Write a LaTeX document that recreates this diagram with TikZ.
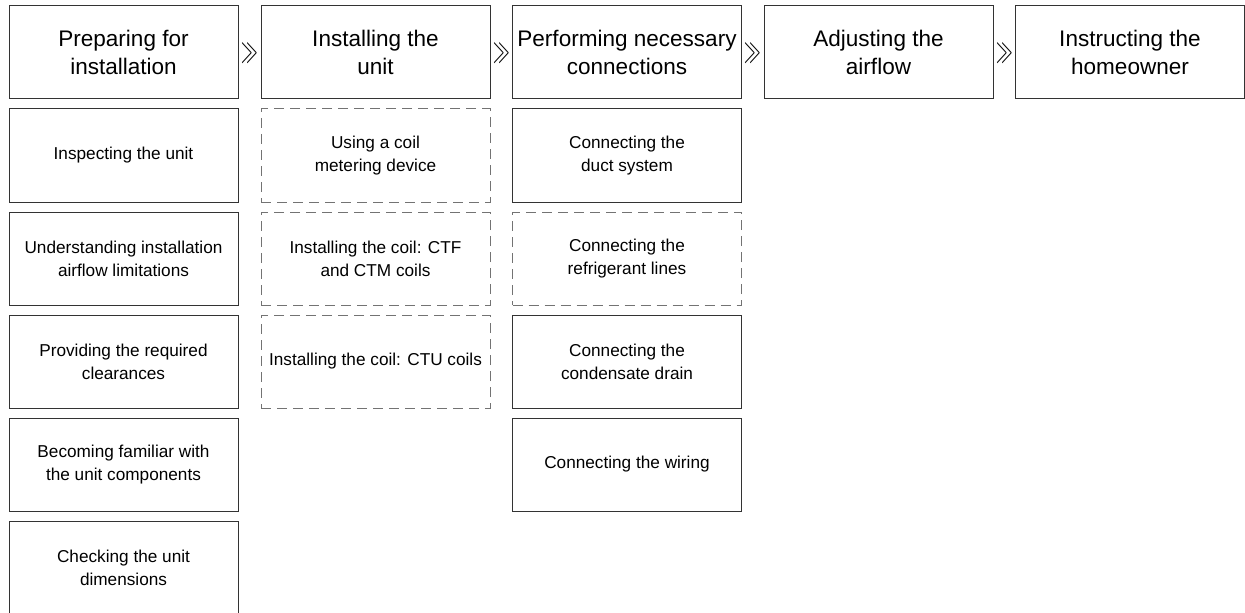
\documentclass[tikz,border=0pt]{standalone}
\usepackage{fontspec}
\setmainfont{Liberation Sans}
\begin{document}
\begin{tikzpicture}[x=0.75pt,y=-0.75pt,every node/.style={draw=black!80,line width=0.75pt,minimum width=171.75pt,minimum height=69.75pt,align=center,inner sep=0pt}]
        \tikzset{head/.style = {font=\fontsize{16.9}{20.5}\selectfont},
                 task/.style = {font=\fontsize{12.9}{17.3}\selectfont},
                 optional/.style = {task,draw=black!55,dash pattern=on 7.5pt off 4.5pt},
                 chev/.style = {draw=none,minimum width=0pt,minimum height=0pt,font=\fontsize{25}{25}\selectfont}}
        \clip (0,0) rectangle (1245,613);
        \node[head] (H1) at (123.5,52.5) {Preparing for\\installation};
        \node[head] (H2) at (375.5,52.5) {Installing the\\unit};
        \node[head] (H3) at (627,52.5) {Performing necessary\\connections};
        \node[head] (H4) at (878.5,52.5) {Adjusting the\\airflow};
        \node[head] (H5) at (1130,52.5) {Instructing the\\homeowner};

        \node[chev] (C1) at (250,53) {\scalebox{0.5}[1]{$\gg$}};
        \node[chev] (C2) at (501.5,53) {\scalebox{0.5}[1]{$\gg$}};
        \node[chev] (C3) at (753,53) {\scalebox{0.5}[1]{$\gg$}};
        \node[chev] (C4) at (1005,53) {\scalebox{0.5}[1]{$\gg$}};

        \node[task] (A1) at (123.5,155.5) {Inspecting the unit};
        \node[task] (A2) at (123.5,258.5) {Understanding installation\\airflow limitations};
        \node[task] (A3) at (123.5,361.5) {Providing the required\\clearances};
        \node[task] (A4) at (123.5,464.5) {Becoming familiar with\\the unit components};
        \node[task] (A5) at (123.5,567.5) {Checking the unit\\dimensions};

        \node[optional] (B1) at (375.5,155.5) {Using a coil\\metering device};
        \node[optional] (B2) at (375.5,258.5) {Installing the coil: CTF\\and CTM coils};
        \node[optional] (B3) at (375.5,361.5) {Installing the coil: CTU coils};

        \node[task] (D1) at (627,155.5) {Connecting the\\duct system};
        \node[optional] (D2) at (627,258.5) {Connecting the\\refrigerant lines};
        \node[task] (D3) at (627,361.5) {Connecting the\\condensate drain};
        \node[task] (D4) at (627,464.5) {Connecting the wiring};
\end{tikzpicture}
\end{document}
